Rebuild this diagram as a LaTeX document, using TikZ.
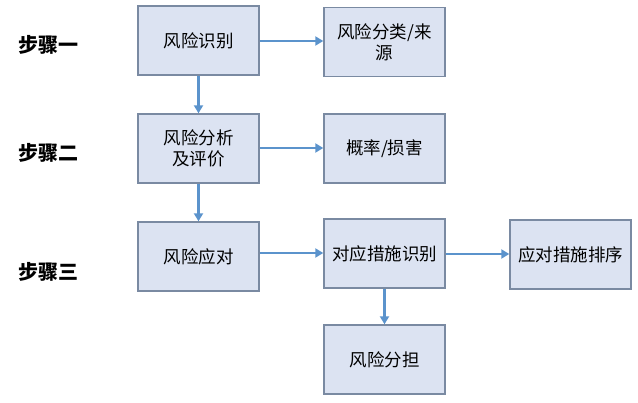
\documentclass[tikz,border=0pt]{standalone}
\usepackage{fontspec}
\setmainfont{Noto Sans CJK SC}
\usepackage{tikz}
\usetikzlibrary{positioning,arrows.meta}
\definecolor{boxfill}{HTML}{DCE3F2}
\definecolor{boxline}{HTML}{7A8AA2}
\definecolor{arrowblue}{HTML}{5B93CC}
\begin{document}
\begin{tikzpicture}[x=1pt,y=-1pt,
        box/.style = {draw=boxline, fill=boxfill, line width=1.4pt, minimum width=121pt, minimum height=69pt, inner sep=2pt, align=center, font=\fontsize{17.5}{21}\selectfont},
        steplabel/.style = {anchor=west, inner sep=0pt, font=\fontsize{20}{24}\selectfont\bfseries},
        link/.style = {draw=arrowblue, line width=2.5pt, -{Triangle[length=8pt,width=9pt]}},
        ]
        \useasboundingbox (0,0) rectangle (638,403);
        \node[steplabel](s1) at (18, 45) {步骤一};
        \node[steplabel](s2) at (18, 153) {步骤二};
        \node[steplabel](s3) at (18, 272) {步骤三};

        \node[box](shibie) at (198.5, 40.5) {风险识别};
        \node[box](laiyuan) at (384.5, 42) {风险分类/来\\源};
        \node[box](fenxi) at (198.5, 148.5) {风险分析\\及评价};
        \node[box](gailv) at (384.5, 148.5) {概率/损害};
        \node[box](yingdui) at (198.5, 256.5) {风险应对};
        \node[box](cuoshi) at (384.5, 253.5) {对应措施识别};
        \node[box](paixu) at (570.5, 254.5) {应对措施排序};
        \node[box](fendan) at (384.5, 359.5) {风险分担};

        \draw[link] (shibie.east |- 0,41) -- (laiyuan.west |- 0,41);
        \draw[link] (fenxi.east |- 0,148) -- (gailv.west |- 0,148);
        \draw[link] (shibie) -- (fenxi);
        \draw[link] (fenxi) -- (yingdui);
        \draw[link] (yingdui.east |- 0,253) -- (cuoshi.west |- 0,253);
        \draw[link] (cuoshi.east |- 0,254) -- (paixu.west |- 0,254);
        \draw[link] (cuoshi) -- (fendan);

\end{tikzpicture}
\end{document}
